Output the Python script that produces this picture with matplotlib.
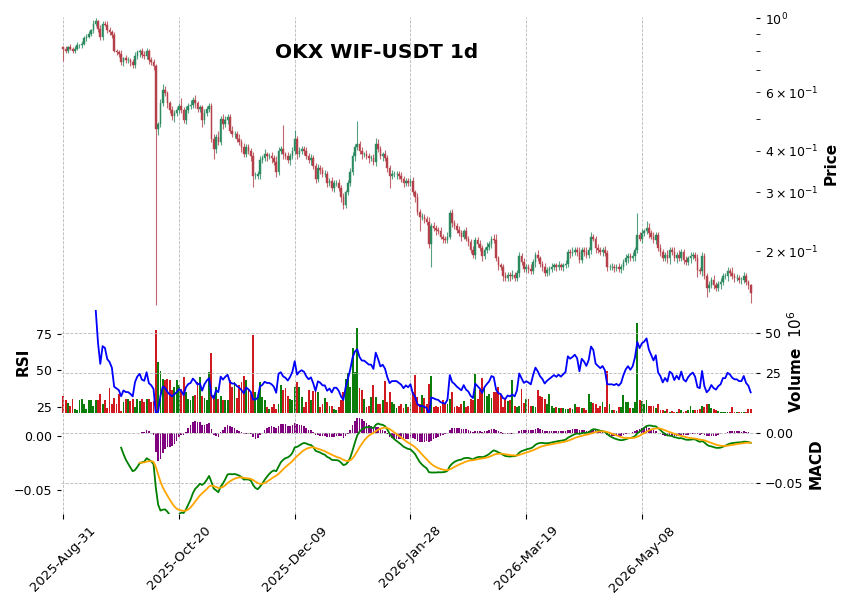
import numpy as np
import pandas as pd
import matplotlib
matplotlib.use('Agg')
import matplotlib.pyplot as plt
from matplotlib.ticker import FuncFormatter

title = 'OKX WIF-USDT 1d'
start_date = '2025-08-31'
tick_step = 50
first_open = 0.82

# daily closes (open = previous close)
closes = [
    0.81, 0.80, 0.82, 0.81, 0.80, 0.81, 0.83, 0.83, 0.84, 0.87,
    0.88, 0.90, 0.92, 0.96, 0.98, 0.93, 0.88, 0.96, 0.955, 0.92,
    0.91, 0.89, 0.80, 0.79, 0.78, 0.74, 0.76, 0.75, 0.75, 0.74,
    0.725, 0.77, 0.79, 0.80, 0.775, 0.77, 0.80, 0.75, 0.74, 0.72,
    0.465, 0.48, 0.555, 0.609, 0.595, 0.555, 0.53, 0.51, 0.52, 0.53,
    0.545, 0.53, 0.495, 0.53, 0.545, 0.55, 0.57, 0.555, 0.535, 0.54,
    0.495, 0.52, 0.535, 0.545, 0.435, 0.405, 0.44, 0.425, 0.50, 0.48,
    0.495, 0.505, 0.46, 0.45, 0.45, 0.435, 0.425, 0.41, 0.39, 0.41,
    0.40, 0.385, 0.335, 0.335, 0.34, 0.375, 0.38, 0.39, 0.385, 0.385,
    0.38, 0.37, 0.345, 0.40, 0.405, 0.39, 0.385, 0.375, 0.385, 0.40,
    0.435, 0.39, 0.40, 0.405, 0.40, 0.385, 0.375, 0.38, 0.36, 0.33,
    0.355, 0.35, 0.34, 0.34, 0.32, 0.325, 0.31, 0.32, 0.32, 0.31,
    0.29, 0.275, 0.30, 0.32, 0.345, 0.385, 0.41, 0.42, 0.40, 0.39,
    0.39, 0.385, 0.38, 0.38, 0.37, 0.42, 0.405, 0.385, 0.39, 0.38,
    0.355, 0.335, 0.34, 0.34, 0.34, 0.335, 0.33, 0.32, 0.325, 0.32,
    0.325, 0.30, 0.29, 0.262, 0.253, 0.253, 0.25, 0.245, 0.21, 0.238,
    0.235, 0.231, 0.229, 0.221, 0.218, 0.216, 0.221, 0.26, 0.243, 0.238,
    0.231, 0.226, 0.221, 0.229, 0.218, 0.213, 0.2015, 0.195, 0.216, 0.21,
    0.204, 0.193, 0.2015, 0.206, 0.21, 0.218, 0.216, 0.19, 0.181, 0.179,
    0.168, 0.166, 0.17, 0.168, 0.17, 0.166, 0.172, 0.193, 0.185, 0.177,
    0.179, 0.177, 0.174, 0.185, 0.195, 0.19, 0.183, 0.179, 0.172, 0.175,
    0.177, 0.179, 0.181, 0.179, 0.181, 0.179, 0.181, 0.183, 0.199, 0.197,
    0.199, 0.2015, 0.199, 0.188, 0.2015, 0.199, 0.195, 0.2015, 0.221, 0.218,
    0.204, 0.2015, 0.199, 0.2015, 0.197, 0.179, 0.179, 0.179, 0.178, 0.179,
    0.177, 0.179, 0.185, 0.19, 0.193, 0.19, 0.193, 0.2015, 0.223, 0.218,
    0.226, 0.229, 0.235, 0.226, 0.221, 0.216, 0.223, 0.204, 0.199, 0.19,
    0.195, 0.19, 0.2015, 0.199, 0.19, 0.195, 0.19, 0.199, 0.188, 0.185,
    0.19, 0.193, 0.195, 0.19, 0.1755, 0.174, 0.193, 0.168, 0.155, 0.158,
    0.164, 0.158, 0.155, 0.159, 0.161, 0.168, 0.168, 0.174, 0.172, 0.168,
    0.166, 0.166, 0.164, 0.164, 0.168, 0.161, 0.158, 0.15,
]

# volume in millions
volumes_m = [
    11, 8.7, 6.6, 5.1, 8.9, 2.7, 2.5, 8.7, 9.3, 5.8,
    2.7, 8.3, 8.3, 5.1, 8.3, 8.3, 12.4, 5.8, 8.7, 3.7,
    16, 6, 10, 6, 12, 2, 7, 9, 9, 8,
    9, 4, 9, 8, 9, 7, 9, 9, 7, 8,
    51.7, 32, 26.2, 21.7, 20.7, 21.3, 20.7, 14.5, 16.5, 20.7,
    18, 15, 22.7, 13.4, 9.3, 8.7, 10.7, 11.4, 19.6, 22.7,
    10.7, 9.9, 8.7, 25.8, 37.6, 11.4, 16.5, 9.3, 10.7, 8.7,
    8.7, 8.7, 20.7, 16.5, 19.6, 9.9, 17.5, 19.6, 23.1, 20.7,
    14.5, 12, 48.6, 13.4, 10.3, 19.6, 10.3, 8.7, 4.1, 3,
    4, 6.2, 3.1, 5.8, 17.5, 14.5, 16.1, 10.7, 9.3, 8.7,
    16.5, 19.6, 16.5, 10.3, 4.1, 7.2, 14.5, 8.3, 14.0, 13.8,
    13.4, 4.1, 6.2, 9.9, 7.2, 5.1, 5.1, 3.1, 2.5, 4.5,
    8.3, 13.4, 21.7, 25.2, 16.5, 40.3, 25.8, 52.7, 16.1, 14.5,
    9.3, 4.5, 5.1, 10.3, 17.5, 10.3, 5.8, 6.2, 8.3, 20.3,
    7.2, 13.4, 7.2, 6.2, 3.7, 5.1, 6.2, 3.7, 5.8, 4.1,
    7.2, 13.4, 23.7, 10.3, 6.2, 11.4, 9.9, 5.8, 18.2, 23.1,
    4.5, 5.1, 4.1, 5.1, 8.7, 6.6, 6.2, 9.3, 13.4, 4.5,
    5.1, 4.5, 5.8, 7.9, 4.1, 5.1, 9.3, 8.3, 24.8, 9.3,
    14.5, 22.3, 16.1, 10.7, 12.4, 9.9, 13.4, 13.4, 16.5, 11.4,
    4.5, 9.9, 7.9, 8.3, 21.1, 5.1, 4.5, 5.1, 15.5, 6.6,
    9.3, 9.3, 5.1, 5.1, 4.5, 14.5, 10.7, 10.3, 9.3, 5.8,
    12.0, 5.1, 3.7, 4.5, 3.7, 3.7, 3.7, 3.1, 3.1, 3.7,
    3.1, 6.2, 4.5, 4.5, 3.7, 3.7, 2.5, 12.4, 7.2, 6.6,
    5.8, 3.5, 5.1, 7.2, 4.0, 26.2, 6.2, 2.5, 2.1, 1.6,
    4.1, 4.5, 11.4, 7.2, 7.2, 3.7, 3.7, 7.2, 56.2, 8.7,
    7.9, 6.2, 8.7, 5.1, 5.1, 5.1, 3.7, 5.8, 2.5, 2.1,
    1.6, 3.1, 1.0, 1.6, 1.0, 1.0, 3.1, 2.1, 1.0, 1.6,
    2.5, 5.1, 2.5, 2.1, 2.5, 3.1, 5.1, 4.1, 6.2, 5.8,
    3.7, 3.1, 2.5, 1.6, 1.4, 1.2, 1.4, 1.4, 1.4, 4.5,
    1.4, 1.2, 1.0, 1.0, 1.2, 1.4, 3.1, 2.7,
]

# wick lengths beyond the body, percent
upper_wick_pct = [
    1, 2, 1, 2, 1, 2, 2, 1, 2, 2,  2, 2, 1, 3, 2, 1, 3, 2, 2, 3,
    2, 1, 2, 1, 2, 3, 1, 2, 2, 1,  2, 3, 2, 1, 2, 3, 2, 1, 2, 2,
    1, 2, 3, 4, 3, 2, 2, 3, 2, 2,  2, 6, 2, 3, 2, 3, 2, 3, 2, 2,
    2, 3, 2, 2, 2, 3, 2, 4, 2, 3,  3, 2, 2, 3, 2, 2, 3, 2, 3, 2,
    2, 2, 3, 3, 2, 3, 2, 4, 2, 2,  3, 2, 4, 3, 2, 18, 2, 3, 2, 3,
    6, 2, 3, 2, 2, 3, 2, 3, 2, 2,  3, 2, 2, 3, 2, 2, 3, 2, 2, 3,
    2, 3, 2, 2, 3, 3, 2, 17, 2, 3,  2, 3, 2, 2, 3, 4, 3, 2, 2, 3,
    2, 2, 3, 2, 2, 2, 3, 2, 2, 2,  2, 3, 2, 3, 2, 3, 2, 2, 3, 2,
    3, 2, 2, 3, 2, 2, 3, 2, 3, 2,  2, 3, 2, 2, 3, 2, 2, 3, 2, 2,
    3, 2, 2, 3, 2, 2, 3, 4, 2, 2,  2, 3, 2, 2, 3, 2, 2, 3, 2, 3,
    2, 2, 3, 2, 2, 3, 2, 2, 3, 2,  2, 3, 2, 2, 3, 2, 2, 3, 2, 2,
    3, 2, 2, 3, 2, 2, 3, 2, 3, 2,  2, 3, 2, 2, 3, 2, 2, 3, 2, 2,
    3, 2, 2, 3, 2, 2, 3, 2, 17, 2,  3, 2, 5, 3, 2, 3, 2, 2, 3, 2,
    2, 3, 2, 2, 3, 2, 3, 2, 2, 3,  2, 3, 2, 2, 3, 2, 3, 2, 2, 3,
    2, 3, 2, 2, 3, 2, 2, 3, 2, 4,  2, 3, 2, 2, 3, 2, 2, 1,
]
lower_wick_pct = [
    8, 2, 2, 1, 2, 2, 1, 2, 2, 1,  2, 1, 2, 2, 1, 2, 2, 2, 1, 2,
    2, 2, 1, 2, 2, 2, 3, 2, 2, 3,  2, 2, 2, 3, 2, 2, 2, 3, 2, 3,
    70.3, 4, 2, 2, 2, 3, 2, 3, 4, 2,  2, 2, 2, 3, 2, 2, 2, 3, 2, 2,
    5, 3, 2, 2, 2, 7, 3, 2, 2, 3,  2, 3, 2, 2, 3, 2, 2, 3, 2, 2,
    2, 3, 7, 2, 2, 3, 2, 2, 3, 2,  3, 2, 3, 2, 2, 3, 2, 2, 3, 2,
    2, 3, 2, 2, 3, 2, 2, 3, 2, 3,  2, 3, 2, 2, 3, 2, 2, 3, 2, 2,
    3, 3, 2, 2, 2, 2, 3, 2, 2, 3,  2, 2, 3, 2, 2, 3, 2, 2, 3, 2,
    3, 8, 2, 2, 3, 2, 2, 3, 2, 2,  2, 2, 3, 2, 9, 2, 3, 2, 3, 15,
    2, 3, 2, 2, 3, 2, 2, 2, 3, 2,  2, 2, 3, 2, 2, 3, 2, 2, 3, 2,
    2, 3, 2, 2, 2, 3, 2, 2, 3, 2,  3, 2, 2, 3, 2, 2, 2, 3, 2, 2,
    2, 3, 2, 2, 3, 2, 2, 3, 2, 2,  3, 2, 2, 3, 2, 2, 3, 2, 2, 3,
    2, 2, 3, 2, 2, 3, 2, 2, 3, 2,  3, 2, 2, 3, 2, 3, 2, 2, 3, 2,
    2, 3, 2, 2, 3, 2, 2, 3, 2, 2,  3, 2, 2, 3, 2, 2, 3, 2, 3, 2,
    2, 3, 4, 2, 2, 3, 2, 2, 3, 2,  2, 3, 2, 2, 5, 2, 3, 2, 6, 3,
    2, 3, 2, 2, 3, 2, 2, 3, 2, 2,  3, 2, 2, 3, 2, 2, 3, 7,
]

up_color = '#2b8a60'
down_color = '#b5404a'
vol_up_color = '#0b7d0b'
vol_down_color = '#d11a1f'

close = np.array(closes)
n = len(close)
opn = np.r_[first_open, close[:-1]]
high = np.maximum(opn, close) * (1 + np.array(upper_wick_pct) / 100)
low = np.minimum(opn, close) * (1 - np.array(lower_wick_pct) / 100)
vol = np.array(volumes_m) * 1e6
x = np.arange(n)
dates = pd.date_range(start_date, periods=n, freq='D')
up = close >= opn

# indicators
s = pd.Series(close)
d = s.diff()
avg_gain = d.clip(lower=0).ewm(alpha=1 / 14, min_periods=14).mean()
avg_loss = (-d.clip(upper=0)).ewm(alpha=1 / 14, min_periods=14).mean()
rsi = 100 - 100 / (1 + avg_gain / avg_loss)

ema_fast = s.ewm(span=12, adjust=False).mean()
ema_slow = s.ewm(span=26, adjust=False).mean()
macd = ema_fast - ema_slow
macd[:25] = np.nan
signal = macd.ewm(span=9, adjust=False, min_periods=9).mean()
hist = macd - signal

fig = plt.figure(figsize=(8.56, 6.07), dpi=100)
L, W = 0.0718, 0.8114
ax_p = fig.add_axes([L, 0.4893, W, 0.4827])
ax_v = fig.add_axes([L, 0.3196, W, 0.1697], sharex=ax_p)
ax_m = fig.add_axes([L, 0.1532, W, 0.1664], sharex=ax_p)
ax_r = ax_v.twinx()
ax_l = ax_m.twinx()

grid_kw = dict(color='#b8b8b8', linestyle='--', linewidth=0.6)

# price
ccol = np.where(up, up_color, down_color)
ax_p.vlines(x, low, high, colors=ccol, linewidth=0.8, alpha=0.8)
ax_p.bar(x, np.abs(close - opn), bottom=np.minimum(opn, close), width=0.7,
         color=ccol, edgecolor=ccol, linewidth=0.3)
ax_p.set_yscale('log')
ax_p.set_ylim(0.133, 1.009)
ax_p.yaxis.tick_right()
ax_p.yaxis.set_label_position('right')
ax_p.set_ylabel('Price', fontsize=11, fontweight='bold')
ax_p.tick_params(axis='y', which='both', labelsize=9, length=3)
ax_p.tick_params(axis='x', labelbottom=False, length=0)
ax_p.grid(True, axis='x', **grid_kw)

# volume + rsi
vcol = np.where(up, vol_up_color, vol_down_color)
ax_v.bar(x, vol, width=0.8, color=vcol)
ax_v.set_ylim(0.5e6, 64e6)
ax_v.set_yticks([25e6, 50e6])
ax_v.yaxis.set_major_formatter(FuncFormatter(lambda v, _: f'{v / 1e6:.0f}'))
ax_v.yaxis.tick_right()
ax_v.yaxis.set_label_position('right')
ax_v.set_ylabel('Volume  $10^{6}$', fontsize=11, fontweight='bold')
ax_v.tick_params(axis='y', labelsize=9, length=3)
ax_v.tick_params(axis='x', labelbottom=False, length=0)
ax_v.grid(True, **grid_kw)

ax_r.plot(x, rsi, color='blue', linewidth=1.3)
ax_r.set_ylim(20.7, 91.5)
ax_r.set_yticks([25, 50, 75])
ax_r.yaxis.tick_left()
ax_r.yaxis.set_label_position('left')
ax_r.set_ylabel('RSI', fontsize=11, fontweight='bold')
ax_r.tick_params(axis='y', labelsize=9, length=3)

# macd
fmt = FuncFormatter(lambda v, _: f'{v:.2f}'.replace('-', '\u2212') if abs(v) > 1e-9 else '0.00')
ax_m.bar(x, hist, width=0.7, color='purple')
ax_m.set_ylim(-0.0813, 0.0197)
ax_m.set_yticks([-0.05, 0.0])
ax_m.yaxis.set_major_formatter(fmt)
ax_m.yaxis.tick_right()
ax_m.yaxis.set_label_position('right')
ax_m.set_ylabel('MACD', fontsize=11, fontweight='bold')
ax_m.tick_params(axis='y', labelsize=9, length=3)
ax_m.grid(True, **grid_kw)

ax_l.plot(x, macd, color='green', linewidth=1.3)
ax_l.plot(x, signal, color='orange', linewidth=1.3)
ax_l.set_ylim(-0.0722, 0.0213)
ax_l.set_yticks([-0.05, 0.0])
ax_l.yaxis.set_major_formatter(fmt)
ax_l.yaxis.tick_left()
ax_l.tick_params(axis='y', labelsize=9, length=3)

ticks = list(range(0, n, tick_step))
ax_m.set_xticks(ticks)
ax_m.set_xticklabels([dates[i].strftime('%Y-%b-%d') for i in ticks], rotation=45, fontsize=9.5)
ax_m.set_xlim(-0.78, n + 1.3)

for a in (ax_p, ax_v, ax_m, ax_r, ax_l):
    for sp in a.spines.values():
        sp.set_visible(False)

fig.text(376.5 / 856, 1 - 53 / 607, title, ha='center', va='center',
         fontsize=14.5, fontweight='bold')

fig.savefig('out.png', dpi=100)
